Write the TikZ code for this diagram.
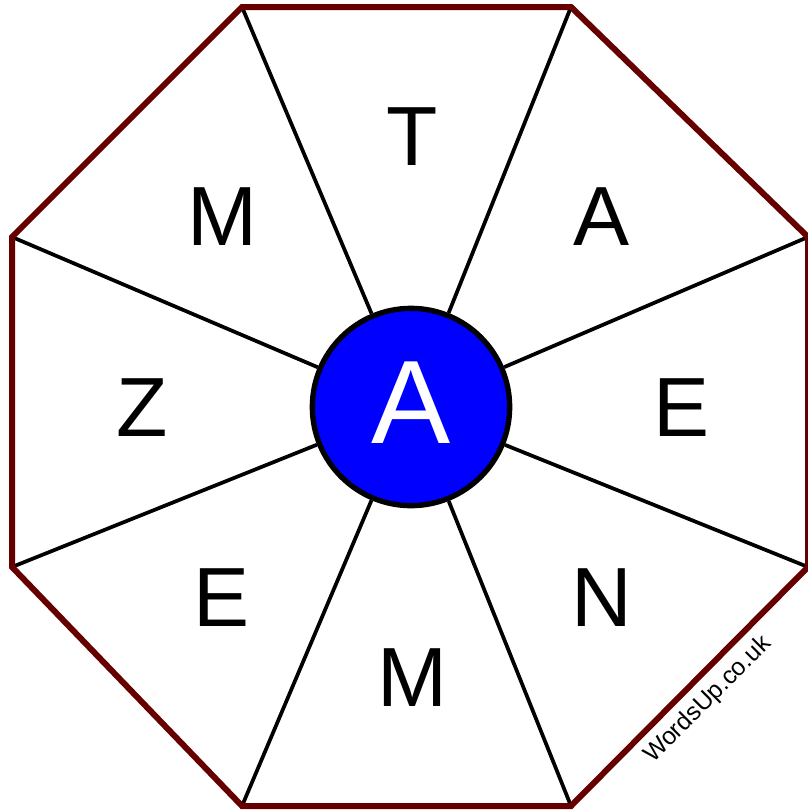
\documentclass[tikz,border=0pt]{standalone}
\usepackage{fontspec}
\setmainfont{Liberation Sans}
\definecolor{rim}{HTML}{660000}
\definecolor{hubblue}{HTML}{0000FF}

\begin{document}
\begin{tikzpicture}[x=0.75pt,y=-0.75pt,
  letter/.style={anchor=base,inner sep=0pt,font=\fontsize{63}{63}\selectfont},
  spoke/.style={line width=2.8pt},
  rimline/.style={line width=4.5pt,rim,line join=miter}]

\useasboundingbox (0,0) rectangle (807,810);

\coordinate (v1) at (242,7);
\coordinate (v2) at (571,7);
\coordinate (v3) at (808,237);
\coordinate (v4) at (808,567);
\coordinate (v5) at (571,806);
\coordinate (v6) at (242,806);
\coordinate (v7) at (12,567);
\coordinate (v8) at (12,237);

\node (hub) [circle,draw,line width=4pt,fill=hubblue,minimum size=148pt,inner sep=0pt] at (411,407) {};
\node (centre) [letter,text=white,font=\fontsize{89}{89}\selectfont] at (411,443) {A};

\draw[spoke] (hub) -- (v1);
\draw[spoke] (hub) -- (v2);
\draw[spoke] (hub) -- (v3);
\draw[spoke] (hub) -- (v4);
\draw[spoke] (hub) -- (v5);
\draw[spoke] (hub) -- (v6);
\draw[spoke] (hub) -- (v7);
\draw[spoke] (hub) -- (v8);

\draw[rimline] (v1) -- (v2) -- (v3) -- (v4) -- (v5) -- (v6) -- (v7) -- (v8) -- cycle;

\node (t) [letter] at (412,165) {T};
\node (a) [letter] at (602,245) {A};
\node (e1) [letter] at (682,436) {E};
\node (n) [letter] at (602,626) {N};
\node (m1) [letter] at (412,706) {M};
\node (e2) [letter] at (222,626) {E};
\node (z) [letter] at (142,436) {Z};
\node (m2) [letter] at (222,245) {M};

\node (site) [rotate=45,inner sep=0pt,font=\fontsize{18.5}{18.5}\selectfont] at (708,700) {WordsUp.co.uk};

\end{tikzpicture}
\end{document}
